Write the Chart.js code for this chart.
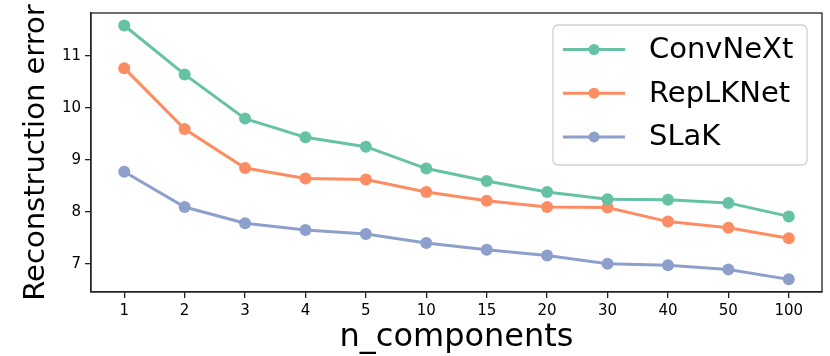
<!DOCTYPE html>
<html>
<head>
<meta charset="utf-8">
<script src="https://cdn.jsdelivr.net/npm/chart.js@4"></script>
<style>
  html, body { margin: 0; padding: 0; background: #fff; }
  #wrap { width: 830px; height: 356px; }
</style>
</head>
<body>
<div id="wrap"><canvas id="chart" width="830" height="356"></canvas></div>
<script>
// n_components on the x axis
const categories = ['1', '2', '3', '4', '5', '10', '15', '20', '30', '40', '50', '100'];

// reconstruction error per model
const convnext = [11.58, 10.64, 9.79, 9.43, 9.25, 8.83, 8.59, 8.38, 8.24, 8.23, 8.17, 7.91];
const replknet = [10.76, 9.59, 8.84, 8.64, 8.62, 8.38, 8.21, 8.09, 8.08, 7.81, 7.69, 7.49];
const slak = [8.77, 8.09, 7.78, 7.65, 7.57, 7.40, 7.27, 7.16, 7.00, 6.97, 6.89, 6.70];

const seriesNames = ['ConvNeXt', 'RepLKNet', 'SLaK'];
const seriesColors = ['#66c2a5', '#fc8d62', '#8da0cb'];
const yTicks = [7, 8, 9, 10, 11];

const FONT = "'DejaVu Sans', sans-serif";
const AXIS = '#222';

const toPoints = (vals) => vals.map((v, i) => ({ x: i, y: v }));

const makeDataset = (label, vals, color) => ({
  label,
  data: toPoints(vals),
  borderColor: color,
  backgroundColor: color,
  borderWidth: 3,
  pointRadius: 6,
  pointHoverRadius: 6,
  pointBorderWidth: 0,
  pointBackgroundColor: color,
  tension: 0,
});

// box around the whole plot area, like matplotlib spines
const framePlugin = {
  id: 'frame',
  afterDraw(chart) {
    const { ctx, chartArea: a } = chart;
    ctx.save();
    ctx.strokeStyle = AXIS;
    ctx.lineWidth = 1.3;
    ctx.strokeRect(a.left, a.top, a.right - a.left, a.bottom - a.top);
    ctx.restore();
  },
};

// matplotlib-style legend: line + marker + label, in a rounded box
const legendPlugin = {
  id: 'mplLegend',
  afterDatasetsDraw(chart) {
    const { ctx } = chart;
    const box = { x: 553, y: 25, w: 254, h: 140, r: 5 };
    ctx.save();
    ctx.beginPath();
    ctx.roundRect(box.x, box.y, box.w, box.h, box.r);
    ctx.fillStyle = 'rgba(255,255,255,0.8)';
    ctx.fill();
    ctx.strokeStyle = '#d0d0d0';
    ctx.lineWidth = 1.3;
    ctx.stroke();

    ctx.font = `29px ${FONT}`;
    ctx.textBaseline = 'middle';
    ctx.textAlign = 'left';
    chart.data.datasets.forEach((ds, i) => {
      const cy = 49.5 + i * 43.7;
      ctx.strokeStyle = ds.borderColor;
      ctx.lineWidth = 3;
      ctx.beginPath();
      ctx.moveTo(563, cy);
      ctx.lineTo(625, cy);
      ctx.stroke();
      ctx.fillStyle = ds.borderColor;
      ctx.beginPath();
      ctx.arc(594, cy, 5.5, 0, Math.PI * 2);
      ctx.fill();
      ctx.fillStyle = '#000';
      ctx.fillText(ds.label, 649, cy + 1);
    });
    ctx.restore();
  },
};

const chart = new Chart(document.getElementById('chart'), {
  type: 'line',
  data: {
    datasets: [
      makeDataset(seriesNames[0], convnext, seriesColors[0]),
      makeDataset(seriesNames[1], replknet, seriesColors[1]),
      makeDataset(seriesNames[2], slak, seriesColors[2]),
    ],
  },
  options: {
    responsive: false,
    animation: false,
    devicePixelRatio: 1,
    layout: { padding: { top: 11, right: 8, left: 0, bottom: 0 } },
    plugins: {
      legend: { display: false },
      tooltip: { enabled: false },
    },
    scales: {
      x: {
        type: 'linear',
        min: -0.55,
        max: categories.length - 1 + 0.55,
        afterBuildTicks: (scale) => {
          scale.ticks = categories.map((_, i) => ({ value: i }));
        },
        afterFit: (scale) => { scale.height = 64; },
        ticks: {
          autoSkip: false,
          maxRotation: 0,
          padding: 4,
          color: '#000',
          font: { family: FONT, size: 15 },
          callback: (v) => categories[v],
        },
        grid: { drawOnChartArea: false, drawTicks: true, tickLength: 6, color: AXIS, lineWidth: 1.3 },
        border: { display: true, color: AXIS, width: 1.3 },
        title: {
          display: true,
          text: 'n_components',
          color: '#000',
          font: { family: FONT, size: 32, lineHeight: 1.2 },
          padding: { top: 0, bottom: -1 },
        },
      },
      y: {
        min: 6.457,
        max: 11.82,
        afterBuildTicks: (scale) => {
          scale.ticks = yTicks.map((v) => ({ value: v }));
        },
        afterFit: (scale) => { scale.width = 91; },
        ticks: {
          padding: 4,
          color: '#000',
          font: { family: FONT, size: 15 },
          callback: (v) => String(v),
        },
        grid: { drawOnChartArea: false, drawTicks: true, tickLength: 6, color: AXIS, lineWidth: 1.3 },
        border: { display: true, color: AXIS, width: 1.3 },
        title: {
          display: true,
          text: 'Reconstruction error',
          color: '#000',
          font: { family: FONT, size: 29, lineHeight: 1.2 },
          padding: { top: 19, bottom: 0 },
        },
      },
    },
  },
  plugins: [framePlugin, legendPlugin],
});
</script>
</body>
</html>
